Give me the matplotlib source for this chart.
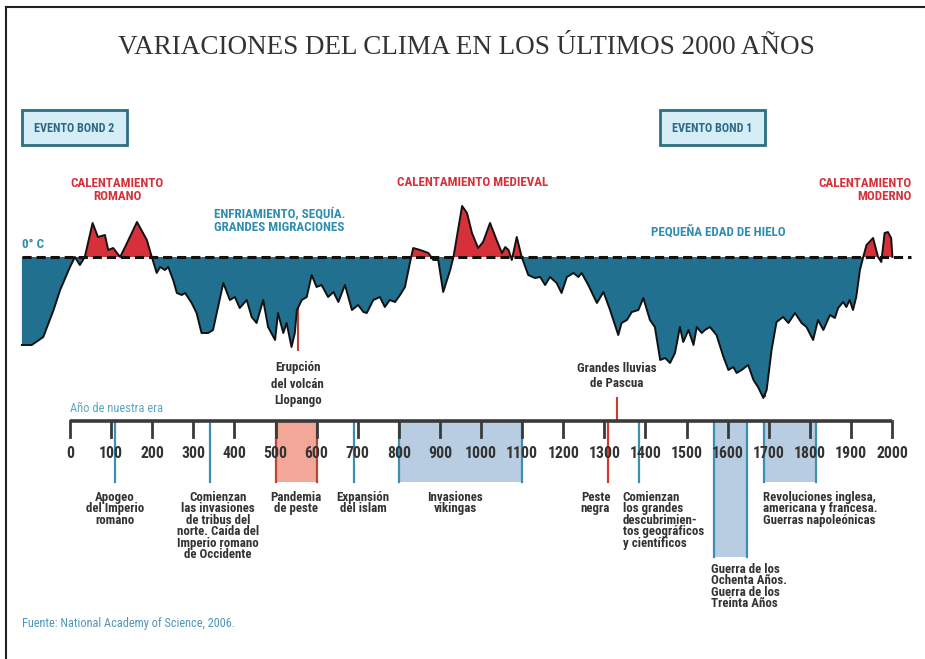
# coding: utf-8
import matplotlib
matplotlib.use("Agg")
import matplotlib.pyplot as plt
import numpy as np
from matplotlib import font_manager as fm
from matplotlib.patches import Rectangle

##########################################################################
# Data: temperature anomaly curve (relative units, 0 = reference)
years = [-117, -93, -65, -40, -24, 0, 12, 24, 36, 55, 68, 85, 93, 105, 122, 134, 163, 187, 199,
         211, 219, 231, 239, 251, 260, 272, 280, 296, 308, 320, 336, 348, 373, 389, 401, 413,
         430, 442, 454, 470, 482, 499, 506, 519, 527, 539, 547, 552, 564, 576, 588, 600, 612,
         628, 641, 653, 669, 686, 701, 714, 722, 738, 754, 766, 778, 791, 803, 815, 827, 835,
         852, 872, 884, 896, 908, 925, 933, 954, 966, 978, 993, 1005, 1022, 1038, 1051, 1059,
         1067, 1075, 1087, 1099, 1115, 1131, 1144, 1156, 1168, 1184, 1196, 1209, 1225, 1237,
         1245, 1261, 1282, 1298, 1314, 1334, 1342, 1355, 1367, 1383, 1395, 1411, 1423, 1436,
         1448, 1460, 1472, 1484, 1492, 1505, 1517, 1525, 1537, 1545, 1557, 1573, 1590, 1602,
         1614, 1622, 1634, 1650, 1663, 1674, 1687, 1695, 1707, 1719, 1735, 1748, 1764, 1780,
         1792, 1808, 1820, 1833, 1849, 1861, 1869, 1881, 1889, 1897, 1905, 1913, 1922, 1930,
         1938, 1954, 1966, 1974, 1982, 1990, 1998, 2001]
anomaly = [-0.88, -0.88, -0.80, -0.53, -0.33, -0.10, 0.00, -0.08, 0.00, 0.34, 0.20, 0.22, 0.07,
           0.09, 0.00, 0.10, 0.35, 0.17, 0.00, -0.16, -0.10, -0.13, -0.10, -0.23, -0.36, -0.38,
           -0.36, -0.46, -0.56, -0.76, -0.76, -0.73, -0.26, -0.43, -0.40, -0.51, -0.43, -0.60,
           -0.66, -0.43, -0.70, -0.83, -0.56, -0.76, -0.66, -0.90, -0.76, -0.53, -0.43, -0.40,
           -0.18, -0.30, -0.28, -0.40, -0.35, -0.45, -0.28, -0.53, -0.48, -0.55, -0.56, -0.43,
           -0.40, -0.50, -0.43, -0.45, -0.38, -0.30, -0.06, 0.09, 0.07, 0.04, -0.03, -0.03,
           -0.35, -0.13, 0.00, 0.51, 0.44, 0.24, 0.09, 0.15, 0.34, 0.17, 0.04, 0.10, 0.07, -0.03,
           0.20, 0.00, -0.18, -0.21, -0.20, -0.28, -0.20, -0.26, -0.36, -0.20, -0.16, -0.20,
           -0.16, -0.28, -0.46, -0.35, -0.53, -0.78, -0.66, -0.63, -0.55, -0.53, -0.41, -0.63,
           -0.70, -1.03, -1.01, -1.06, -0.96, -0.70, -0.85, -0.73, -0.88, -0.70, -0.76, -0.73,
           -0.70, -0.78, -1.00, -1.13, -1.10, -1.16, -1.13, -1.08, -1.23, -1.30, -1.41, -1.33,
           -0.93, -0.65, -0.60, -0.66, -0.56, -0.66, -0.70, -0.83, -0.63, -0.73, -0.58, -0.61,
           -0.51, -0.45, -0.50, -0.43, -0.53, -0.40, -0.13, 0.00, 0.12, 0.19, 0.00, -0.05, 0.24,
           0.25, 0.19, 0.00]

tick_years = list(range(0, 2001, 100))

# Shaded periods on the timeline: (start, end, kind)
periods = [(500, 600, 'red'), (800, 1100, 'blue'), (1568, 1648, 'blue_long'), (1689, 1815, 'blue')]
# Single events on the timeline: (year, kind)
events = [(110, 'blue'), (340, 'blue'), (690, 'blue'), (1308, 'red'), (1385, 'blue')]

event_labels = [
    (110, 'center', 'Apogeo\ndel Imperio\nromano'),
    (360, 'center', 'Comienzan\nlas invasiones\nde tribus del\nnorte. Caída del\nImperio romano\nde Occidente'),
    (550, 'center', 'Pandemia\nde peste'),
    (713, 'center', 'Expansión\ndel islam'),
    (937, 'center', 'Invasiones\nvikingas'),
    (1243, 'left', 'Peste\nnegra'),
    (1345, 'left', 'Comienzan\nlos grandes\ndescubrimien-\ntos geográficos\ny científicos'),
]
##########################################################################

# Colours
RED = '#d6303a'
TEAL = '#22708f'
TEAL_TXT = '#2f8db0'
DARK = '#333333'
SPAN_BLUE = '#b8cde2'
SPAN_RED = '#f2a799'
EDGE_BLUE = '#3c8fb0'
EDGE_RED = '#b8453c'


def pick_font(cands, weight='bold'):
    for fam, stretch in cands:
        try:
            path = fm.findfont(fm.FontProperties(family=fam, stretch=stretch, weight=weight),
                               fallback_to_default=False)
        except ValueError:
            continue
        if stretch == 'normal' or 'ondensed' in path or 'arrow' in path:
            return dict(family=fam, stretch=stretch)
    return dict(family='Roboto', stretch='normal')


NARROW = pick_font([('Roboto Condensed', 'normal'), ('Liberation Sans Narrow', 'normal'),
                    ('Noto Sans Condensed', 'normal'), ('Noto Sans', 'condensed'),
                    ('DejaVu Sans', 'condensed'), ('Open Sans', 'condensed')])
NARROW_R = pick_font([('Roboto Condensed', 'normal'), ('Liberation Sans Narrow', 'normal'),
                      ('Noto Sans Condensed', 'normal'), ('Noto Sans', 'condensed'),
                      ('DejaVu Sans', 'condensed'), ('Open Sans', 'condensed')], weight='normal')
SERIF = pick_font([('Liberation Serif', 'normal'), ('DejaVu Serif', 'condensed')], weight='normal')

W, H = 925, 659
X_PX0, PX_PER_YEAR = 70, 0.411
xlim = (-X_PX0 / PX_PER_YEAR, (W - X_PX0) / PX_PER_YEAR)

fig = plt.figure(figsize=(W / 100, H / 100), dpi=100)
fig.patch.set_facecolor('white')
renderer = fig.canvas.get_renderer()


def text_box(s, size, **kw):
    t = fig.text(0, 0, s, fontsize=size, **kw)
    bb = t.get_window_extent(renderer)
    t.remove()
    return bb


def fit(s, px, **kw):
    return 10 * px / text_box(s, 10, **kw).width


def spacing(px, size, **kw):
    step = text_box('Ag\nAg', size, linespacing=1, **kw).height - text_box('Ag', size, linespacing=1, **kw).height
    return px / step


# Layout axes: x = years, y = pixel rows
ax = fig.add_axes([0, 0, 1, 1])
ax.set_xlim(*xlim)
ax.set_ylim(H, 0)
ax.axis('off')

# Curve axes: x = years, y = anomaly, zero line at row 257
ZERO_Y, PX_PER_UNIT = 257, 100
ay = fig.add_axes([0, 0, 1, 1])
ay.set_xlim(*xlim)
ay.set_ylim((ZERO_Y - H) / PX_PER_UNIT, ZERO_Y / PX_PER_UNIT)
ay.axis('off')
ay.patch.set_alpha(0)

yr = np.array(years, dtype=float)
an = np.array(anomaly)
ay.fill_between(yr, an, 0, where=an >= 0, interpolate=True, color=RED, lw=0, zorder=2)
ay.fill_between(yr, an, 0, where=an <= 0, interpolate=True, color=TEAL, lw=0, zorder=2)
ay.plot(yr, an, color='#111111', lw=1.4, zorder=3)
ay.plot([yr[0], 2046], [0, 0], color='#111111', lw=2.2, dashes=(3, 1.6), zorder=4)


def px2yr(px):
    return xlim[0] + px / PX_PER_YEAR


# Frame (left and top)
ax.plot([px2yr(6)] * 2, [7, H], color='#222222', lw=1.5, clip_on=False)
ax.plot([px2yr(6), xlim[1]], [7, 7], color='#222222', lw=1.5, clip_on=False)

# Title
title = 'VARIACIONES DEL CLIMA EN LOS ÚLTIMOS 2000 AÑOS'
ax.text(px2yr(466), 48, title, ha='center', va='center', color=DARK,
        fontsize=fit(title, 698, **SERIF), **SERIF)

# Bond boxes
box_fs = fit('EVENTO BOND 1', 80, weight='bold', **NARROW)
for x0, label in [(22, 'EVENTO BOND 2'), (660, 'EVENTO BOND 1')]:
    ax.add_patch(Rectangle((px2yr(x0), 110), 105 / PX_PER_YEAR, 35, facecolor='#d5edf7',
                           edgecolor='#2d6f80', lw=2, zorder=5))
    ax.text(px2yr(x0 + 52.5), 128, label, ha='center', va='center', fontsize=box_fs,
            weight='bold', color='#2a6a84', zorder=6, **NARROW)

# Period headers
hdr_fs = fit('CALENTAMIENTO', 93, weight='bold', **NARROW)
hdr = dict(weight='bold', fontsize=hdr_fs, linespacing=spacing(14, hdr_fs, weight='bold', **NARROW),
           **NARROW)
ax.text(115, 190, 'CALENTAMIENTO\nROMANO', ha='center', va='center', color=RED, **hdr)
ax.text(350, 221, 'ENFRIAMIENTO, SEQUÍA.\nGRANDES MIGRACIONES', ha='left', va='center',
        color=TEAL_TXT, **hdr)
ax.text(980, 183, 'CALENTAMIENTO MEDIEVAL', ha='center', va='center', color=RED, **hdr)
ax.text(1578, 232, 'PEQUEÑA EDAD DE HIELO', ha='center', va='center', color=TEAL_TXT, **hdr)
ax.text(2048, 190, 'CALENTAMIENTO\nMODERNO', ha='right', va='center', color=RED, **hdr)
ax.text(-117, 244, '0° C', ha='left', va='center', color=TEAL_TXT, **hdr)

# Eruptions and rain labels above the timeline
up_fs = fit('Erupción', 45, weight='bold', **NARROW)
up = dict(weight='bold', fontsize=up_fs, color=DARK,
          linespacing=spacing(17, up_fs, weight='bold', **NARROW), **NARROW)
ax.text(554, 384, 'Erupción\ndel volcán\nLlopango', ha='center', va='center', **up)
ax.plot([554, 554], [308, 350], color=EDGE_RED, lw=1.5)
up2 = dict(up, linespacing=spacing(15, up_fs, weight='bold', **NARROW))
ax.text(1330, 376, 'Grandes lluvias\nde Pascua', ha='center', va='center', **up2)
ax.plot([1330, 1330], [398, 421], color='#d23a30', lw=1.5)
ax.text(1698, 318, 'Erupción del\nvolcán\nLaki', ha='right', va='center', **up)
ax.plot([1691, 1691], [345, 396], color='#9a2a40', lw=1.5, zorder=6)

# Timeline
ax.text(0, 408, 'Año de nuestra era', ha='left', va='center', color='#5fa4c6',
        fontsize=fit('Año de nuestra era', 92, **NARROW_R), **NARROW_R)
for s, e, kind in periods:
    bottom = 557 if kind == 'blue_long' else 482
    fc = SPAN_RED if kind == 'red' else SPAN_BLUE
    ec = EDGE_RED if kind == 'red' else EDGE_BLUE
    ax.add_patch(Rectangle((s, 421), e - s, bottom - 421, facecolor=fc, edgecolor='none', zorder=1))
    ax.plot([s, s], [421, bottom], color=ec, lw=1.6, zorder=2)
    ax.plot([e, e], [421, bottom], color=ec, lw=1.6, zorder=2)
for y, kind in events:
    ax.plot([y, y], [421, 482], color=EDGE_BLUE if kind == 'blue' else '#d23a30', lw=1.6, zorder=2)

ax.plot([0, 2000], [421, 421], color='#3a3a3a', lw=2.6, zorder=3, solid_capstyle='butt')
tick_fs = fit('1000', 32, weight='bold', **NARROW)
for t in tick_years:
    ax.plot([t, t], [421, 437], color='#3a3a3a', lw=2, zorder=3)
    ax.text(t, 454, str(t), ha='center', va='center', fontsize=tick_fs, weight='bold',
            color=DARK, zorder=4, **NARROW)

# Event labels below the timeline
lo_fs = fit('Comienzan', 57, weight='bold', **NARROW)
lo = dict(weight='bold', fontsize=lo_fs, color=DARK,
          linespacing=spacing(11, lo_fs, weight='bold', **NARROW), **NARROW)
for x, ha, txt in event_labels:
    ax.text(x, 491, txt, ha=ha, va='top', **lo)
ax.text(1560, 563, 'Guerra de los\nOchenta Años.\nGuerra de los\nTreinta Años', ha='left', va='top', **lo)
ax.text(1686, 491, 'Revoluciones inglesa,\namericana y francesa.\nGuerras napoleónicas',
        ha='left', va='top', **lo)

# Source
src = 'Fuente: National Academy of Science, 2006.'
ax.text(-117, 624, src, ha='left', va='center', color='#4f96ba',
        fontsize=fit(src, 212, **NARROW_R), **NARROW_R)

fig.savefig('out.png', dpi=100, facecolor='white')
